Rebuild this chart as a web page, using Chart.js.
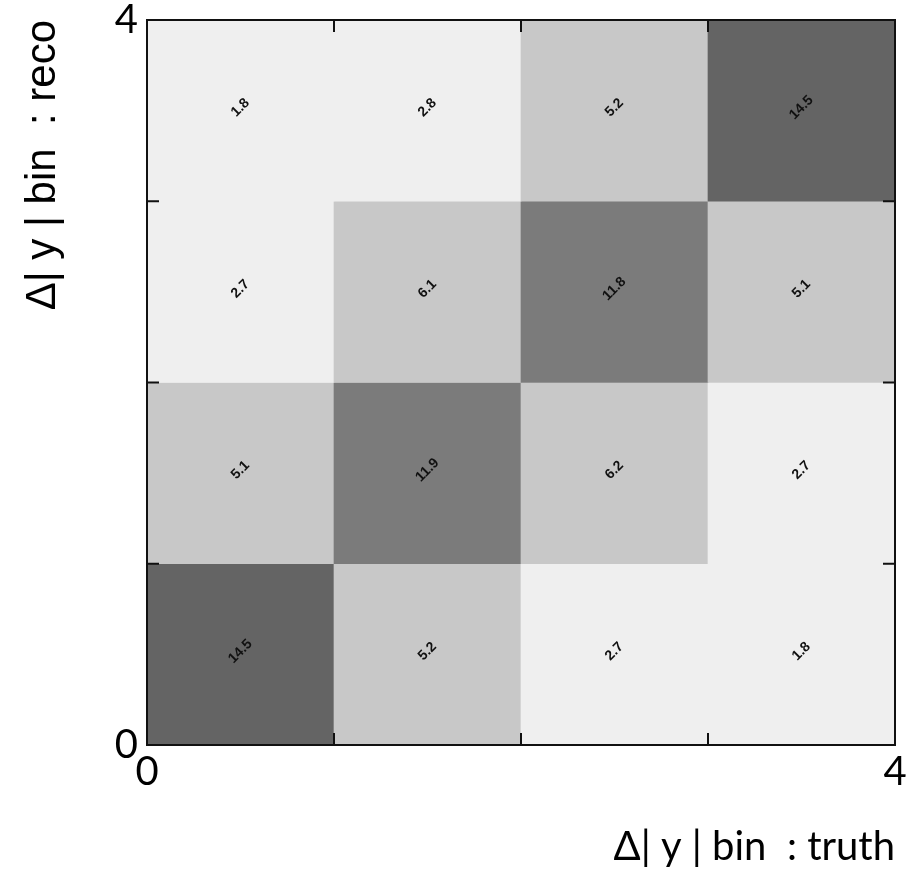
<!DOCTYPE html>
<html>
<head>
<meta charset="utf-8">
<script src="https://cdn.jsdelivr.net/npm/chart.js@4.4.1/dist/chart.umd.min.js"></script>
<style>
  html, body { margin: 0; padding: 0; background: #fff; }
  #wrap { width: 919px; height: 871px; position: relative; }
</style>
</head>
<body>
<div id="wrap"><canvas id="chart"></canvas></div>
<script>
// bin edges / tick labels
const binEdges = [0, 1, 2, 3, 4];
const tickLabels = { 0: "0", 4: "4" };

// migration values, one array per reco bin (bottom row first), columns = truth bins
const reco0 = [14.5, 5.2, 2.7, 1.8];
const reco1 = [5.1, 11.9, 6.2, 2.7];
const reco2 = [2.7, 6.1, 11.8, 5.1];
const reco3 = [1.8, 2.8, 5.2, 14.5];
const recoRows = [reco0, reco1, reco2, reco3];

const xTitle = "\u0394| y | bin  : truth";
const yTitle = "\u0394| y | bin  : reco";

function shade(v) {
  if (v > 13) return "#646464";
  if (v > 9) return "#7b7b7b";
  if (v > 4) return "#c8c8c8";
  return "#efefef";
}

const cells = [];
const colors = [];
const labels = [];
recoRows.forEach((row, r) => {
  row.forEach((v, t) => {
    cells.push({ x: t + 0.5, y: [r, r + 1] });
    colors.push(shade(v));
    labels.push(v.toFixed(1));
  });
});

// frame, inward ticks and the rotated cell values
const decorations = {
  id: "decorations",
  afterDatasetsDraw(chart) {
    const ctx = chart.ctx;
    const meta = chart.getDatasetMeta(0);
    ctx.save();
    ctx.fillStyle = "#111";
    ctx.font = "bold 14px 'Liberation Sans', Arial, sans-serif";
    ctx.textAlign = "center";
    ctx.textBaseline = "middle";
    meta.data.forEach((el, i) => {
      const p = el.getCenterPoint();
      ctx.save();
      ctx.translate(p.x, p.y - 3);
      ctx.rotate(-Math.PI / 4);
      ctx.fillText(labels[i], 0, 0);
      ctx.restore();
    });
    ctx.restore();
  },
  afterDraw(chart) {
    const { ctx, chartArea: a, scales } = chart;
    const tl = 12;
    ctx.save();
    ctx.strokeStyle = "#111";
    ctx.lineWidth = 2;
    ctx.strokeRect(a.left, a.top, a.right - a.left, a.bottom - a.top);
    ctx.beginPath();
    binEdges.slice(1, -1).forEach(v => {
      const px = scales.x.getPixelForValue(v);
      ctx.moveTo(px, a.bottom); ctx.lineTo(px, a.bottom - tl);
      ctx.moveTo(px, a.top); ctx.lineTo(px, a.top + tl);
      const py = scales.y.getPixelForValue(v);
      ctx.moveTo(a.left, py); ctx.lineTo(a.left + tl, py);
      ctx.moveTo(a.right, py); ctx.lineTo(a.right - tl, py);
    });
    ctx.stroke();
    ctx.restore();
  }
};

const tickFont = { family: "Lato, 'Liberation Sans', sans-serif", size: 40 };

new Chart(document.getElementById("chart").getContext("2d"), {
  type: "bar",
  data: {
    datasets: [{
      data: cells,
      backgroundColor: colors,
      borderWidth: 0,
      barPercentage: 1,
      categoryPercentage: 1
    }]
  },
  options: {
    responsive: true,
    maintainAspectRatio: false,
    animation: false,
    layout: { autoPadding: false, padding: { top: 20, right: 24, left: 0, bottom: 0 } },
    plugins: { legend: { display: false }, tooltip: { enabled: false } },
    scales: {
      x: {
        type: "linear",
        min: 0,
        max: 4,
        offset: false,
        grid: { display: false, offset: false, drawTicks: false },
        border: { display: false },
        ticks: {
          stepSize: 1,
          autoSkip: false,
          maxRotation: 0,
          padding: 3,
          color: "#000",
          font: tickFont,
          callback: v => tickLabels[v] || ""
        },
        title: {
          display: true,
          text: xTitle,
          align: "end",
          color: "#000",
          font: { family: "Lato, 'Liberation Sans', sans-serif", size: 40 },
          padding: { top: 0, bottom: 0 }
        },
        afterFit: s => { s.height = 126; s.paddingLeft = 0; s.paddingRight = 0; }
      },
      y: {
        type: "linear",
        min: 0,
        max: 4,
        grid: { display: false, drawTicks: false },
        border: { display: false },
        ticks: {
          stepSize: 1,
          autoSkip: false,
          padding: 9,
          color: "#000",
          font: tickFont,
          callback: v => tickLabels[v] || ""
        },
        title: {
          display: true,
          text: yTitle,
          align: "end",
          color: "#000",
          font: { family: "'Liberation Sans', Arial, sans-serif", size: 42 },
          padding: { top: 18, bottom: 0 }
        },
        afterFit: s => { s.width = 147; s.paddingTop = 0; s.paddingBottom = 0; }
      }
    }
  },
  plugins: [decorations]
});
</script>
</body>
</html>
